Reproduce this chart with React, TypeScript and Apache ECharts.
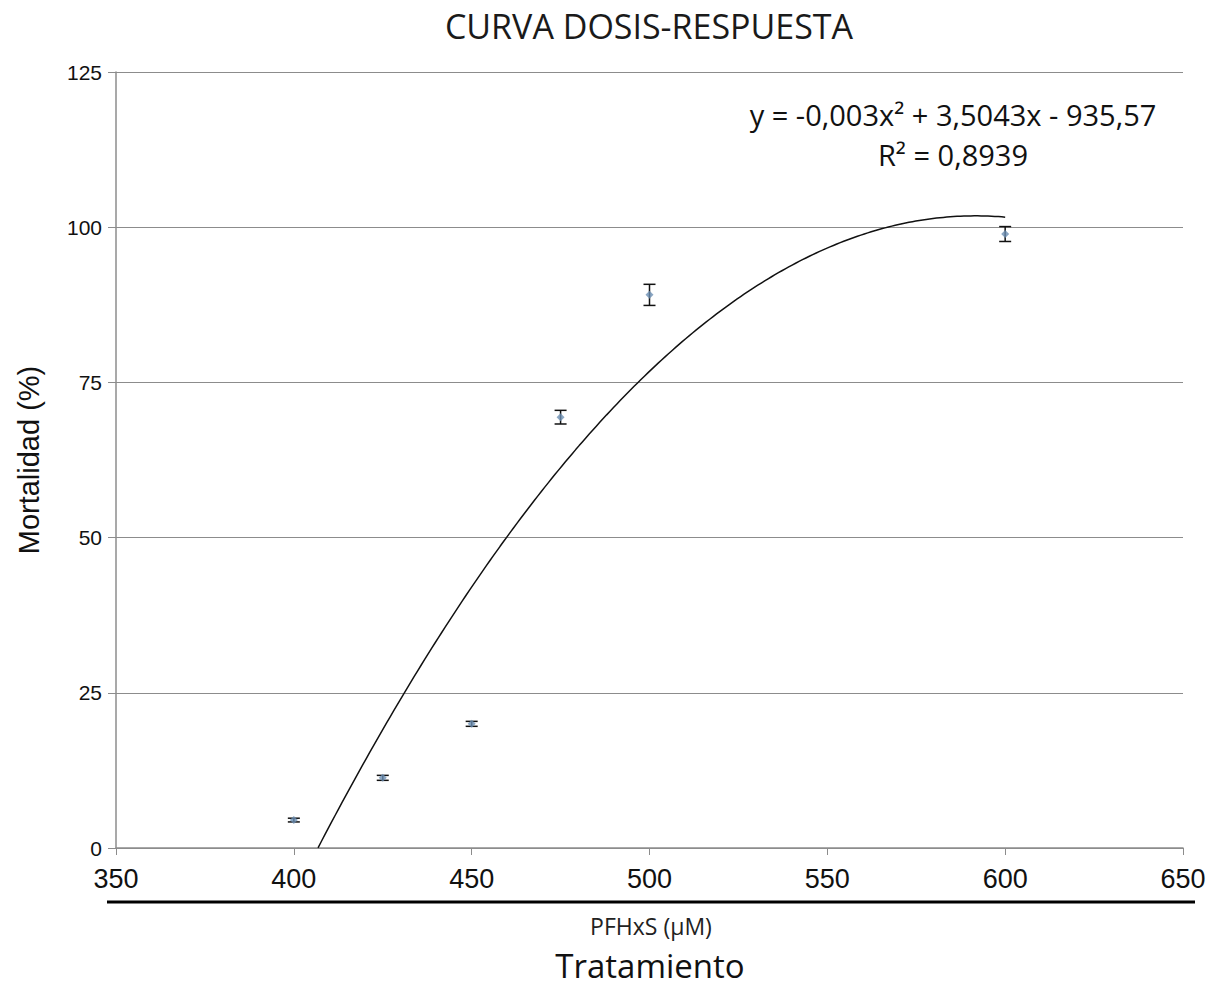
import React, { useEffect, useRef } from "react";
import * as echarts from "echarts";

const doses = [400, 425, 450, 475, 500, 600];
const mortality = [4.5, 11.3, 20, 69.4, 89.1, 98.9];
const errors = [0.3, 0.4, 0.4, 1.1, 1.7, 1.2];
const xTicks = [350, 400, 450, 500, 550, 600, 650];
const yTicks = [0, 25, 50, 75, 100, 125];
const titleText = "CURVA DOSIS-RESPUESTA";
const equationText = "y = -0,003x² + 3,5043x - 935,57";
const r2Text = "R² = 0,8939";
const yAxisName = "Mortalidad (%)";
const xSubtitle = "PFHxS (µM)";
const xAxisName = "Tratamiento";

// least-squares quadratic fit (trendline) from the data
function quadFit(xs: number[], ys: number[]) {
  const n = xs.length;
  const mx = xs.reduce((a, b) => a + b, 0) / n;
  const u = xs.map((x) => x - mx);
  let s1 = 0, s2 = 0, s3 = 0, s4 = 0, sy = 0, suy = 0, su2y = 0;
  for (let i = 0; i < n; i++) {
    const v = u[i];
    s1 += v; s2 += v * v; s3 += v * v * v; s4 += v * v * v * v;
    sy += ys[i]; suy += v * ys[i]; su2y += v * v * ys[i];
  }
  const M = [
    [n, s1, s2, sy],
    [s1, s2, s3, suy],
    [s2, s3, s4, su2y],
  ];
  for (let i = 0; i < 3; i++) {
    for (let k = i + 1; k < 3; k++) {
      const f = M[k][i] / M[i][i];
      for (let j = i; j < 4; j++) M[k][j] -= f * M[i][j];
    }
  }
  const sol = [0, 0, 0];
  for (let i = 2; i >= 0; i--) {
    let s = M[i][3];
    for (let j = i + 1; j < 3; j++) s -= M[i][j] * sol[j];
    sol[i] = s / M[i][i];
  }
  const [A, B, C] = sol;
  return (x: number) => A + B * (x - mx) + C * (x - mx) * (x - mx);
}

export default function App() {
  const ref = useRef<HTMLDivElement>(null);
  useEffect(() => {
    if (!ref.current) return;
    const chart = echarts.init(ref.current, null, { renderer: "svg" });
    const f = quadFit(doses, mortality);
    let x0 = doses[0];
    while (f(x0) < 0 && x0 < doses[doses.length - 1]) x0 += 0.1;
    const trend: number[][] = [];
    const xEnd = doses[doses.length - 1];
    for (let k = 0; k <= 200; k++) {
      const x = x0 + ((xEnd - x0) * k) / 200;
      trend.push([x, Math.max(0, f(x))]);
    }
    const pts = doses.map((d, i) => [d, mortality[i]]);
    const errData = doses.map((d, i) => [d, mortality[i] - errors[i], mortality[i] + errors[i]]);

    chart.setOption({
      animation: false,
      backgroundColor: "#ffffff",
      grid: { left: 116, right: 32, top: 72, bottom: 155 },
      xAxis: {
        type: "value",
        min: xTicks[0],
        max: xTicks[xTicks.length - 1],
        interval: 50,
        axisLine: { show: true, lineStyle: { color: "#8c8c8c", width: 1.5 } },
        axisTick: { show: true, length: 7, lineStyle: { color: "#8c8c8c" } },
        splitLine: { show: false },
        axisLabel: { fontFamily: "Liberation Sans", fontSize: 27, color: "#111", margin: 17 },
      },
      yAxis: {
        type: "value",
        min: yTicks[0],
        max: yTicks[yTicks.length - 1],
        interval: 25,
        name: yAxisName,
        nameLocation: "middle",
        nameGap: 73,
        nameTextStyle: { fontFamily: "Liberation Sans", fontSize: 29, color: "#111" },
        axisLine: { show: true, lineStyle: { color: "#8c8c8c", width: 1.5 } },
        axisTick: { show: true, length: 8, lineStyle: { color: "#8c8c8c" } },
        splitLine: { show: true, lineStyle: { color: "#8c8c8c", width: 1.2 } },
        axisLabel: { fontFamily: "Liberation Sans", fontSize: 21, color: "#111", margin: 14 },
      },
      series: [
        {
          type: "line",
          data: trend,
          showSymbol: false,
          symbol: "none",
          lineStyle: { color: "#111", width: 1.5 },
          z: 3,
        },
        {
          type: "custom",
          data: errData,
          z: 4,
          renderItem: (params: any, api: any) => {
            const x = api.value(0);
            const lo = api.coord([x, api.value(1)]);
            const hi = api.coord([x, api.value(2)]);
            const w = 6;
            const st = { stroke: "#111", lineWidth: 1.5 };
            return {
              type: "group",
              children: [
                { type: "line", shape: { x1: lo[0], y1: lo[1], x2: hi[0], y2: hi[1] }, style: st },
                { type: "line", shape: { x1: lo[0] - w, y1: lo[1], x2: lo[0] + w, y2: lo[1] }, style: st },
                { type: "line", shape: { x1: hi[0] - w, y1: hi[1], x2: hi[0] + w, y2: hi[1] }, style: st },
              ],
            };
          },
        },
        {
          type: "scatter",
          data: pts,
          symbol: "diamond",
          symbolSize: 8,
          itemStyle: { color: "#6b8fb3" },
          z: 5,
        },
      ],
      graphic: [
        {
          type: "text",
          style: {
            x: 649,
            y: 26,
            text: titleText,
            fontFamily: "Open Sans",
            fontSize: 34,
            fill: "#1a1a1a",
            align: "center",
            verticalAlign: "middle",
          },
        },
        {
          type: "text",
          style: {
            x: 953,
            y: 114,
            text: equationText,
            fontFamily: "Open Sans",
            fontSize: 29,
            fill: "#111",
            align: "center",
            verticalAlign: "middle",
          },
        },
        {
          type: "text",
          style: {
            x: 953,
            y: 154,
            text: r2Text,
            fontFamily: "Open Sans",
            fontSize: 29,
            fill: "#111",
            align: "center",
            verticalAlign: "middle",
          },
        },
        {
          type: "line",
          shape: { x1: 107, y1: 902, x2: 1195, y2: 902 },
          style: { stroke: "#000", lineWidth: 3 },
        },
        {
          type: "text",
          style: {
            x: 651,
            y: 926,
            text: xSubtitle,
            fontFamily: "Open Sans",
            fontSize: 23,
            fill: "#222",
            align: "center",
            verticalAlign: "middle",
          },
        },
        {
          type: "text",
          style: {
            x: 650,
            y: 965,
            text: xAxisName,
            fontFamily: "Open Sans",
            fontSize: 33,
            fill: "#111",
            align: "center",
            verticalAlign: "middle",
          },
        },
      ],
    });
    return () => chart.dispose();
  }, []);
  return <div ref={ref} style={{ width: 1215, height: 1003, position: "absolute", left: 0, top: 0 }} />;
}
